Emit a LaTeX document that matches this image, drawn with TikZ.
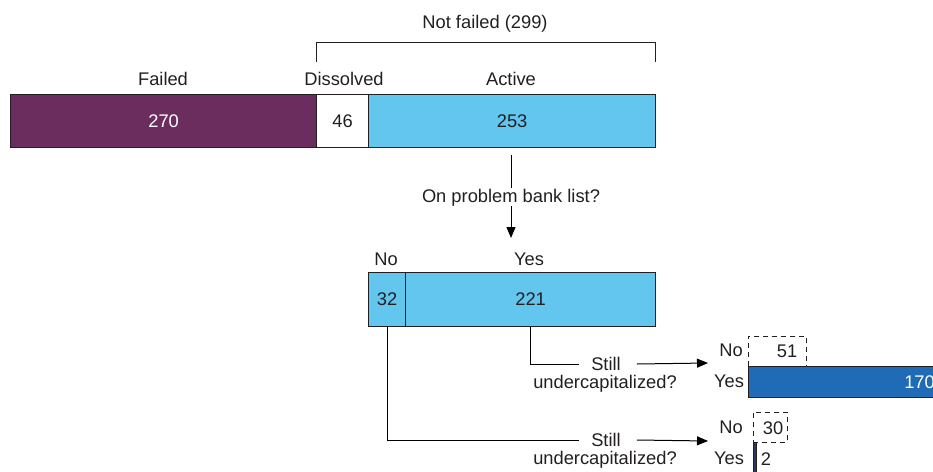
\documentclass[tikz,border=0pt]{standalone}
\usepackage{fontspec}
\setmainfont{Liberation Sans}
\usetikzlibrary{arrows.meta}
\definecolor{failc}{HTML}{6B2C5E}
\definecolor{activec}{HTML}{63C6EE}
\definecolor{stillc}{HTML}{1F6BB5}
\definecolor{navyc}{HTML}{243B5C}
\definecolor{txt}{HTML}{231F20}
\begin{document}
\begin{tikzpicture}[x=1pt,y=-1pt,
  font=\fontsize{18.3}{21}\selectfont, text=txt,
  bar/.style={draw=txt, line width=1.2pt, inner sep=0pt, anchor=north west},
  dbox/.style={draw=txt, line width=0.9pt, dash pattern=on 5pt off 4pt, inner sep=0pt, anchor=north west},
  lbl/.style={inner sep=0pt},
  conn/.style={draw=black, line width=1pt},
  arr/.style={conn, -{Triangle[length=11pt,width=9pt]}}]
\useasboundingbox (0,0) rectangle (933,471);
\clip (0,0) rectangle (933,471);

% top bar
\node[bar, fill=failc, minimum width=306pt, minimum height=53pt, text=white] (failed) at (10,94) {270};
\node[bar, fill=white, minimum width=52pt, minimum height=53pt] (dissolved) at (316,94) {46};
\node[bar, fill=activec, minimum width=287pt, minimum height=53pt] (active) at (368,94) {253};
\node[lbl] (lfailed) at (163,79) {Failed};
\node[lbl] (ldissolved) at (344,79) {Dissolved};
\node[lbl] (lactive) at (511,79) {Active};

% bracket
\coordinate (bl) at (316,62);
\coordinate (br) at (655,62);
\draw[conn, draw=txt] (bl) -- ++(0,-20) coordinate (blt) -- (blt -| br) -- (br);
\node[lbl] (notfailed) at (485,24) {Not failed (299)};

% problem bank list
\node[lbl] (q1) at (511,198) {On problem bank list?};
\coordinate (q1top) at (511,155);
\coordinate (q1bot) at (511,238);
\draw[conn] (q1top) -- (511,188);
\draw[arr] (511,206) -- (q1bot);

% second bar
\node[bar, fill=activec, minimum width=37pt, minimum height=54pt] (no1) at (368,272) {32};
\node[bar, fill=activec, minimum width=250pt, minimum height=54pt] (yes1) at (405,272) {221};
\node[lbl] (lno1) at (386,259) {No};
\node[lbl] (lyes1) at (529,259) {Yes};

% still undercapitalized (upper)
\node[lbl] (still1) at (606,364) {Still};
\node[lbl] (uc1) at (605,384) {undercapitalized?};
\coordinate (t1) at (708,363);
\draw[conn] (yes1.south) |- ([xshift=-12pt]still1.west);
\draw[arr] ([xshift=16pt]still1.east) -- (t1);

% still undercapitalized (lower)
\node[lbl] (still2) at (606,440) {Still};
\node[lbl] (uc2) at (605,460) {undercapitalized?};
\coordinate (t2) at (708,441);
\draw[conn] (no1.south) |- ([xshift=-12pt]still2.west);
\draw[arr] ([xshift=16pt]still2.east) -- (t2);

% right results upper
\node[lbl] (lno2) at (731,350) {No};
\node[dbox, minimum width=58pt, minimum height=30pt] (no2) at (748,336) {};
\node[lbl] (n51) at (787,351) {51};
\node[lbl] (lyes2) at (729,381) {Yes};
\node[bar, fill=stillc, minimum width=200pt, minimum height=31pt] (yes2) at (748,366) {};
\node[lbl, anchor=east, text=white] (n170) at (935,382) {170};

% right results lower
\node[lbl] (lno3) at (731,427) {No};
\node[dbox, minimum width=34pt, minimum height=30pt] (no3) at (753,412) {};
\node[lbl] (n30) at (773,428) {30};
\node[lbl] (lyes3) at (729,458) {Yes};
\node[bar, fill=navyc, line width=0.6pt, minimum width=3pt, minimum height=32pt] (yes3) at (753,442) {};
\node[lbl] (n2) at (766,459) {2};
\end{tikzpicture}
\end{document}
